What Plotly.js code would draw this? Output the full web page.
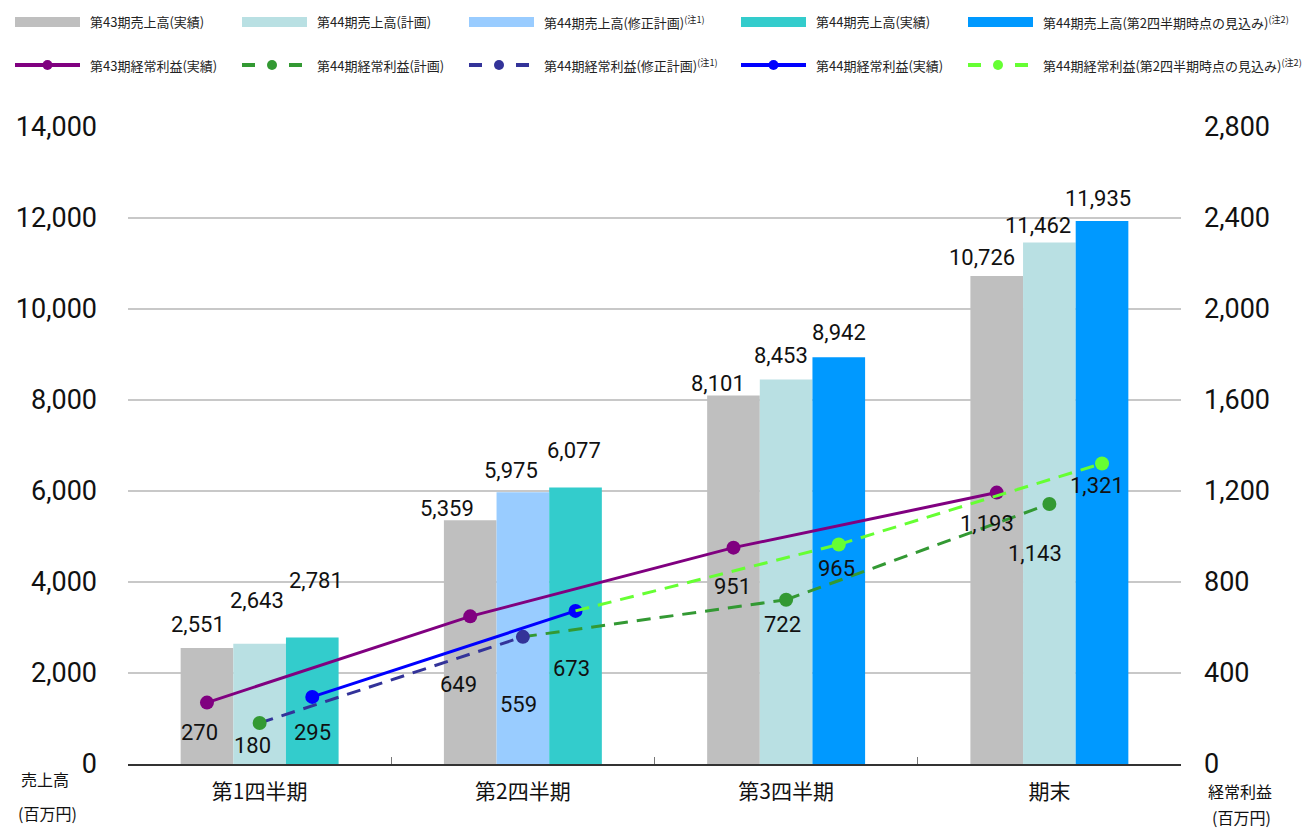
<!DOCTYPE html>
<html><head><meta charset="utf-8">
<script src="https://cdn.plot.ly/plotly-3.0.1.min.js"></script>
<style>html,body{margin:0;padding:0;background:#fff}</style>
</head><body><div id="chart" style="width:1310px;height:828px"></div>
<script>
// ---------- data ----------
const categories = ['第1四半期', '第2四半期', '第3四半期', '期末'];
const sales43Actual   = [2551, 5359, 8101, 10726];
const sales44Plan     = [2643, null, 8453, 11462];
const sales44Revised  = [null, 5975, null, null];
const sales44Actual   = [2781, 6077, null, null];
const sales44Forecast = [null, null, 8942, 11935];
const profit43Actual   = [270, 649, 951, 1193];
const profit44Plan     = [180, null, 722, 1143];
const profit44Revised  = [null, 559, null, null];
const profit44Actual   = [295, 673, null, null];
const profit44Forecast = [null, null, 965, 1321];

const salesNames = ['第43期売上高(実績)', '第44期売上高(計画)', '第44期売上高(修正計画)<sup>(注1)</sup>',
  '第44期売上高(実績)', '第44期売上高(第2四半期時点の見込み)<sup>(注2)</sup>'];
const profitNames = ['第43期経常利益(実績)', '第44期経常利益(計画)', '第44期経常利益(修正計画)<sup>(注1)</sup>',
  '第44期経常利益(実績)', '第44期経常利益(第2四半期時点の見込み)<sup>(注2)</sup>'];

// ---------- label nudges (px: [dx, distance from mark]) ----------
const salesNudge = [
  [[-9, 23], [-23, 12], [-15, 12], [-15, 18]],
  [[-3, 43], null, [-5, 24], [-11, 17]],
  [null, [-12, 22], null, null],
  [[4, 57], [-2, 37], null, null],
  [null, null, [0, 25], [-4, 22]]
];
const profitNudge = [
  [[-7, 30], [-12, 68], [-1, 39], [-10, 31]],
  [[-7, 22], null, [-4, 25], [-14, 50]],
  [null, [-4, 68], null, null],
  [[0, 36], [-4, 58], null, null],
  [null, null, [-2, 24], [-5, 22]]
];

// ---------- style ----------
const barColors = ['#bfbfbf', '#b9e0e3', '#99ccff', '#33cccc', '#0099ff'];
const lineColors = ['#800080', '#339933', '#333399', '#0000ff', '#66ff33'];
const lineDash = ['solid', '14px,9px', '14px,9px', 'solid', '14px,9px'];
const slotOf = [0, 1, 1, 2, 2];
const NUM_FONT = 'Roboto, "Noto Sans CJK JP", sans-serif';
const JP_FONT = '"Noto Sans CJK JP", "Noto Sans", sans-serif';

const W = 1310, H = 828, ML = 128, MR = 129, MT = 127, MB = 64;
const plotW = W - ML - MR, plotH = H - MT - MB;
const px2x = px => (px - ML) / plotW;
const py2y = py => (H - MB - py) / plotH;
const BARGAP = 0.4;
const slotShift = s => (s - 1) * (1 - BARGAP) / 3;

const fmt = v => v.toLocaleString('en-US');

// ---------- traces ----------
const salesSeries = [sales43Actual, sales44Plan, sales44Revised, sales44Actual, sales44Forecast];
const profitSeries = [profit43Actual, profit44Plan, profit44Revised, profit44Actual, profit44Forecast];

const traces = [];
salesSeries.forEach((vals, k) => {
  traces.push({
    type: 'bar', x: categories, y: vals, name: salesNames[k],
    marker: {color: barColors[k], line: {width: 0}},
    offsetgroup: String(slotOf[k]), showlegend: false, hoverinfo: 'skip'
  });
});

function lineTrace(x, y, k, withMarkers, name) {
  return {
    type: 'scatter', mode: withMarkers ? 'lines+markers' : 'lines',
    x: x, y: y, yaxis: 'y2', name: name || profitNames[k],
    line: {color: lineColors[k], width: 3, dash: lineDash[k]},
    marker: {color: lineColors[k], size: 14},
    offsetgroup: String(slotOf[k]), cliponaxis: false,
    showlegend: false, hoverinfo: 'skip'
  };
}
// purple (43期実績)
traces.push(lineTrace(categories, profit43Actual, 0, true));
// navy connector: plan Q1 -> revised Q2
traces.push(lineTrace([categories[0], categories[1]], [profit44Plan[0], profit44Revised[1]], 2, false, 'conn'));
// green connector: revised Q2 -> plan Q3
traces.push(lineTrace([categories[1], categories[2]], [profit44Revised[1], profit44Plan[2]], 1, false, 'conn'));
// green plan
traces.push(lineTrace(categories, profit44Plan, 1, true));
// navy revised
traces.push(lineTrace(categories, profit44Revised, 2, true));
// blue actual
traces.push(lineTrace(categories, profit44Actual, 3, true));
// light green connector: actual Q2 -> forecast Q3
traces.push(lineTrace([categories[1], categories[2]], [profit44Actual[1], profit44Forecast[2]], 4, false, 'conn'));
// light green forecast
traces.push(lineTrace(categories, profit44Forecast, 4, true));

// ---------- annotations ----------
const annotations = [];
salesSeries.forEach((vals, k) => {
  vals.forEach((v, i) => {
    if (v === null) return;
    const n = salesNudge[k][i] || [0, 12];
    annotations.push({
      x: i + slotShift(slotOf[k]), y: v, xref: 'x', yref: 'y', text: fmt(v), showarrow: false,
      xanchor: 'center', yanchor: 'middle', xshift: n[0], yshift: n[1],
      font: {family: NUM_FONT, size: 22, color: '#111'}
    });
  });
});
profitSeries.forEach((vals, k) => {
  vals.forEach((v, i) => {
    if (v === null) return;
    const n = profitNudge[k][i] || [0, 25];
    annotations.push({
      x: i + slotShift(slotOf[k]), y: v, xref: 'x', yref: 'y2', text: fmt(v), showarrow: false,
      xanchor: 'center', yanchor: 'middle', xshift: n[0], yshift: -n[1],
      font: {family: NUM_FONT, size: 22, color: '#111'}
    });
  });
});
// axis unit captions
[['売上高', 45, 779], ['(百万円)', 47, 813], ['経常利益', 1240, 791], ['(百万円)', 1241, 817]].forEach(a => {
  annotations.push({
    x: px2x(a[1]), y: py2y(a[2]), xref: 'paper', yref: 'paper', text: a[0], showarrow: false,
    xanchor: 'center', yanchor: 'middle', font: {family: JP_FONT, size: 16, color: '#111'}
  });
});

// ---------- legend (two rows, five columns) ----------
const legendCols = [15, 242, 469, 741, 968];
const shapes = [];
legendCols.forEach((sx, k) => {
  // bar swatch
  shapes.push({type: 'rect', xref: 'paper', yref: 'paper',
    x0: px2x(sx), x1: px2x(sx + 65), y0: py2y(27), y1: py2y(17),
    fillcolor: barColors[k], line: {width: 0}});
  annotations.push({x: px2x(sx + 73), y: py2y(22), xref: 'paper', yref: 'paper', text: salesNames[k],
    showarrow: false, xanchor: 'left', yanchor: 'middle', font: {family: JP_FONT, size: 13, color: '#222'}});
  // line swatch
  const dashed = lineDash[k] !== 'solid';
  const len = dashed ? 60 : 65;
  shapes.push({type: 'line', xref: 'paper', yref: 'paper',
    x0: px2x(sx), x1: px2x(sx + len), y0: py2y(65), y1: py2y(65),
    line: {color: lineColors[k], width: 4, dash: dashed ? '13px,34px' : 'solid'}});
  const cx = sx + len / 2;
  shapes.push({type: 'circle', xref: 'paper', yref: 'paper',
    x0: px2x(cx - 5), x1: px2x(cx + 5), y0: py2y(70), y1: py2y(60),
    fillcolor: lineColors[k], line: {width: 0}});
  annotations.push({x: px2x(sx + 73), y: py2y(65), xref: 'paper', yref: 'paper', text: profitNames[k],
    showarrow: false, xanchor: 'left', yanchor: 'middle', font: {family: JP_FONT, size: 13, color: '#222'}});
});

// ---------- layout ----------
const layout = {
  width: W, height: H, autosize: false,
  margin: {l: ML, r: MR, t: MT, b: MB, pad: 0},
  paper_bgcolor: '#fff', plot_bgcolor: '#fff',
  barmode: 'group', bargap: BARGAP, bargroupgap: 0,
  scattermode: 'group',
  showlegend: false,
  xaxis: {
    type: 'category', categoryorder: 'array', categoryarray: categories,
    showline: true, linecolor: '#333', linewidth: 1.5,
    ticks: 'inside', tickson: 'boundaries', ticklen: 7, tickcolor: '#777', tickwidth: 1,
    showgrid: false, zeroline: false, ticklabelstandoff: 8,
    tickfont: {family: JP_FONT, size: 21, color: '#111'}
  },
  yaxis: {
    range: [0, 14000], dtick: 2000, tickformat: ',d',
    showgrid: true, gridcolor: '#c8c8c8', gridwidth: 2,
    zeroline: false, showline: false, ticks: '', ticklabelstandoff: 30,
    tickfont: {family: NUM_FONT, size: 27, color: '#111'}
  },
  yaxis2: {
    overlaying: 'y', side: 'right', range: [0, 2800], dtick: 400, tickformat: ',d',
    showgrid: false, zeroline: false, showline: false, ticks: '', ticklabelstandoff: 22,
    tickfont: {family: NUM_FONT, size: 27, color: '#111'}
  },
  annotations: annotations,
  shapes: shapes,
  hovermode: false
};

Plotly.newPlot('chart', traces, layout, {staticPlot: true, displayModeBar: false});
</script>
</body></html>
